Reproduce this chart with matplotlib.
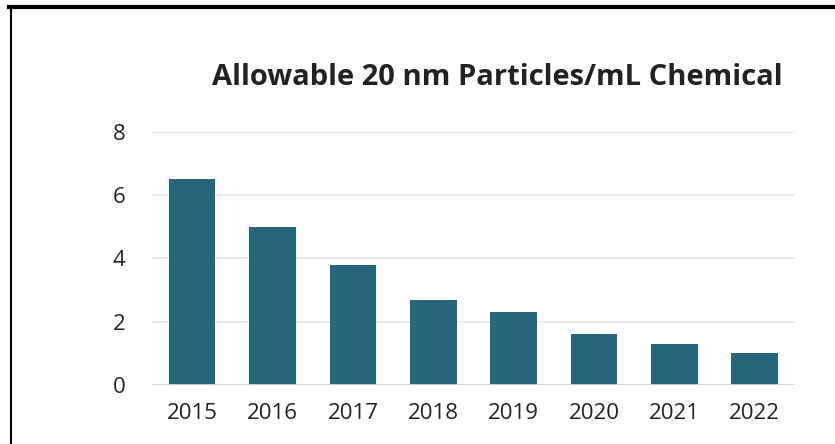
import matplotlib.pyplot as plt
from matplotlib.lines import Line2D

years = ["2015", "2016", "2017", "2018", "2019", "2020", "2021", "2022"]
particles = [6.5, 5.0, 3.8, 2.7, 2.3, 1.6, 1.3, 1.0]
yticks = [0, 2, 4, 6, 8]

plt.rcParams["font.family"] = ["Open Sans", "DejaVu Sans"]

fig = plt.figure(figsize=(8.35, 4.44), dpi=100)
ax = fig.add_axes([0.182, 0.133, 0.770, 0.570])

# frame lines along the top and left edge
fig.add_artist(Line2D([0.011, 1.0], [1 - 7 / 444, 1 - 7 / 444], color="black", lw=3))
fig.add_artist(Line2D([11 / 835, 11 / 835], [0, 1 - 7 / 444], color="black", lw=1.5))

# light horizontal gridlines, darker baseline
for y in yticks[1:]:
    ax.axhline(y, color="#e6e6e6", lw=1.2, zorder=0)
ax.axhline(0, color="#d4d4d4", lw=2, zorder=3)

x = range(len(years))
ax.bar(x, particles, width=0.58, color="#27677e", zorder=2)

ax.set_xlim(-0.5, len(years) - 0.5)
ax.set_ylim(0, 8)
ax.set_xticks(list(x))
ax.set_xticklabels(years)
ax.set_yticks(yticks)
ax.tick_params(axis="both", length=0, labelsize=16, colors="#222222")
ax.tick_params(axis="x", pad=13)
ax.tick_params(axis="y", pad=19)
for s in ax.spines.values():
    s.set_visible(False)

fig.text(0.595, 0.826, "Allowable 20 nm Particles/mL Chemical", ha="center", va="center",
         fontsize=21, fontweight="bold", color="#222222")

fig.savefig("out.png", dpi=100)
